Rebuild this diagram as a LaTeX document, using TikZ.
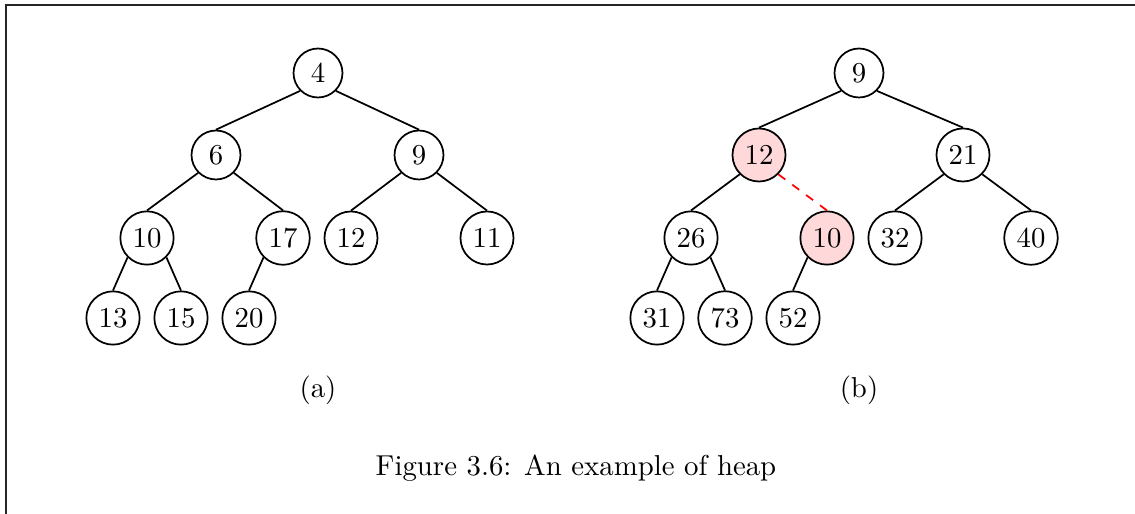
\documentclass[tikz,border=0pt]{standalone}
\begin{document}
\begin{tikzpicture}[x=0.3472pt,y=-0.3472pt,
  hn/.style={circle,draw,line width=0.6pt,minimum size=17pt,inner sep=2.3pt,font=\normalsize},
  hl/.style={hn,fill=red!15},
  ed/.style={line width=0.6pt},
  sw/.style={ed,red,dashed}]
\useasboundingbox (0,0) rectangle (1135,514);
\coordinate (fa) at (6,514);
\coordinate (fb) at (6,5);
\coordinate (fc) at (1135,5);
\draw[line width=0.7pt,black!85] (fa) -- (fb) -- (fc);
% tree (a)
\node[hn] (a4) at (318,73) {4};
\node[hn] (a6) at (216,155) {6};
\node[hn] (a9) at (419,155) {9};
\node[hn] (a10) at (147,238) {10};
\node[hn] (a17) at (283,238) {17};
\node[hn] (a12) at (351,238) {12};
\node[hn] (a11) at (487,238) {11};
\node[hn] (a13) at (113,318) {13};
\node[hn] (a15) at (181,318) {15};
\node[hn] (a20) at (249,318) {20};
\draw[ed] (a4.south west)--(a6.north) (a4.south east)--(a9.north)
  (a6.south west)--(a10.north) (a6.south east)--(a17.north)
  (a9.south west)--(a12.north) (a9.south east)--(a11.north)
  (a10.south west)--(a13.north) (a10.south east)--(a15.north)
  (a17.south west)--(a20.north);
\node (la) at (318,390) {(a)};
% tree (b)
\node[hn] (b9) at (859,73) {9};
\node[hl] (b12) at (759,155) {12};
\node[hn] (b21) at (963,155) {21};
\node[hn] (b26) at (691,238) {26};
\node[hl] (b10) at (827,238) {10};
\node[hn] (b32) at (895,238) {32};
\node[hn] (b40) at (1031,238) {40};
\node[hn] (b31) at (657,318) {31};
\node[hn] (b73) at (725,318) {73};
\node[hn] (b52) at (793,318) {52};
\draw[ed] (b9.south west)--(b12.north) (b9.south east)--(b21.north)
  (b12.south west)--(b26.north)
  (b21.south west)--(b32.north) (b21.south east)--(b40.north)
  (b26.south west)--(b31.north) (b26.south east)--(b73.north)
  (b10.south west)--(b52.north);
\draw[sw] (b12.south east)--(b10.north);
\node (lb) at (859,390) {(b)};
\node (cap) at (576,468) {Figure 3.6: An example of heap};
\end{tikzpicture}
\end{document}
